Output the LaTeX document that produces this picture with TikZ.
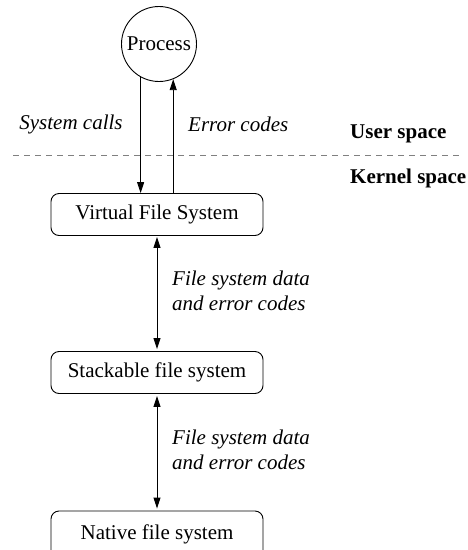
\documentclass[tikz,border=0pt]{standalone}
\usepackage{fontspec}
\setmainfont{Liberation Serif}
\usetikzlibrary{arrows.meta}
\begin{document}
\begin{tikzpicture}[x=1pt,y=-1pt,
  every node/.style={font=\fontsize{21}{25}\selectfont},
  fsbox/.style={draw, rounded corners=8pt, minimum width=212pt, minimum height=42pt, line width=0.9pt, inner sep=0pt},
  procnode/.style={draw, circle, minimum size=75pt, inner sep=0pt, line width=0.9pt},
  arr/.style={line width=0.9pt, -{Triangle[length=11pt,width=7pt]}},
  darr/.style={line width=0.9pt, {Triangle[length=11pt,width=7pt]}-{Triangle[length=11pt,width=7pt]}},
  lbl/.style={font=\fontsize{21}{25}\selectfont\itshape, align=left, inner sep=0pt},
  spacelbl/.style={font=\fontsize{21}{25}\selectfont\bfseries, anchor=west, inner sep=0pt},
  sep/.style={gray, line width=0.9pt, dash pattern=on 6pt off 5pt}
]
\useasboundingbox (0,0) rectangle (467,550);
\clip (0,0) rectangle (467,550);
\node[procnode] (proc) at (159,44) {Process};
\node[fsbox] (vfs) at (157,214.5) {Virtual File System};
\node[fsbox] (sfs) at (157,372.5) {Stackable file system};
\node[fsbox, minimum height=60pt] (nfs) at (157,541) {\raisebox{18pt}{Native file system}};

\draw[arr] (proc.241) -- (proc.241 |- vfs.north);
\draw[arr] (proc.292 |- vfs.north) -- (proc.292);

\node[lbl, anchor=center] (sc) at (71,124) {System calls};
\node[lbl, anchor=west] (ec) at (188,124) {Error codes};

\coordinate (dl) at (13,155);
\coordinate (dr) at (460,155);
\draw[sep] (dl) -- (dr);
\node[spacelbl] (us) at (350,134) {User space};
\node[spacelbl] (ks) at (350,178) {Kernel space};

\draw[darr] ([yshift=-1pt]vfs.south) -- ([yshift=2pt]sfs.north);
\draw[darr] ([yshift=-2pt]sfs.south) -- ([yshift=2pt]nfs.north);

\node[lbl, anchor=west] (l1) at (172,291) {File system data\\and error codes};
\node[lbl, anchor=west] (l2) at (172,450) {File system data\\and error codes};
\end{tikzpicture}
\end{document}
